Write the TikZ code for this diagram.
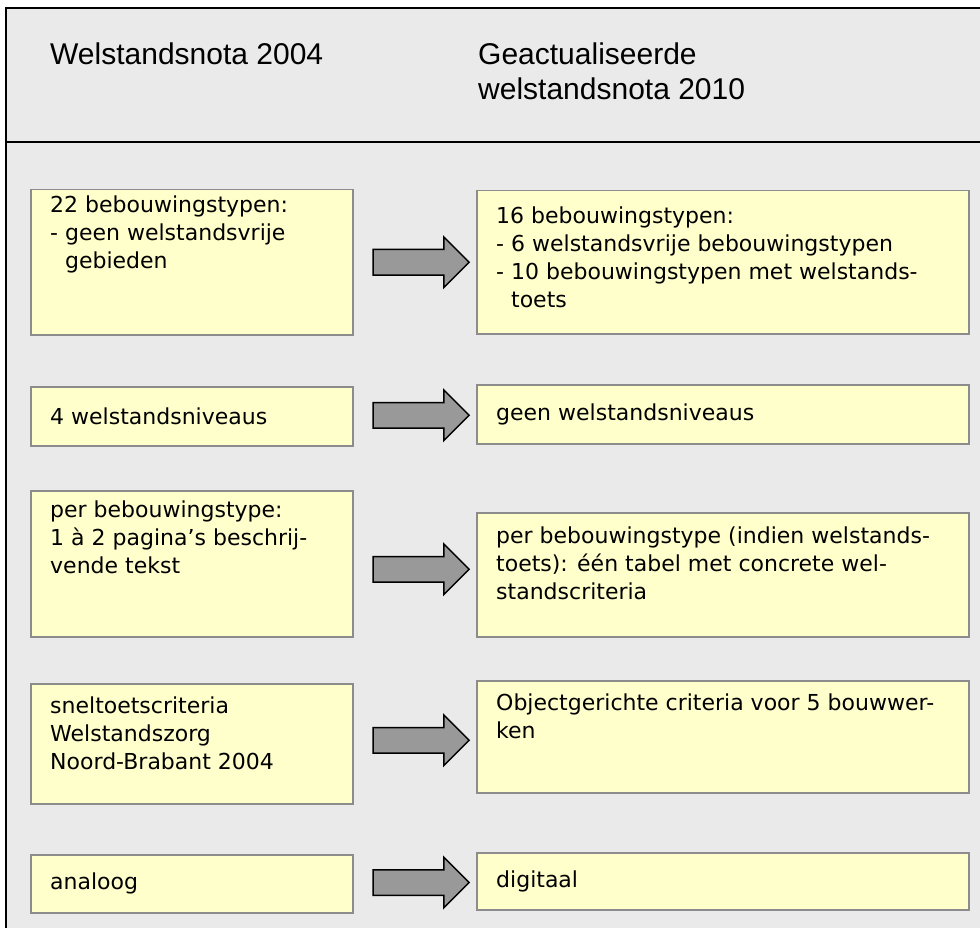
\documentclass[tikz,border=0pt]{standalone}
\usepackage{fontspec}
\usepackage{xcolor}
\setmainfont{DejaVu Sans}
\newfontfamily\headfont{Liberation Sans}
\usetikzlibrary{positioning,calc,shapes.arrows}
\definecolor{framegray}{RGB}{234,234,234}
\definecolor{noteyellow}{RGB}{255,255,204}
\definecolor{boxline}{RGB}{140,140,140}
\definecolor{arrowgray}{RGB}{153,153,153}

\begin{document}
\begin{tikzpicture}[x=1pt, y=-1pt]
    % Define styles
    \tikzstyle{box} = [rectangle, draw=boxline, line width=1.5pt, fill=noteyellow, anchor=north west, inner sep=0pt]
    \tikzstyle{oldbox} = [box, minimum width=322pt]
    \tikzstyle{newbox} = [box, minimum width=492pt]
    \tikzstyle{txt} = [inner sep=0pt, align=left, font=\fontsize{22}{28}\selectfont]
    \tikzstyle{head} = [inner sep=0pt, align=left, anchor=north west, font=\headfont\fontsize{30}{35}\selectfont]
    \tikzstyle{change} = [single arrow, draw=black, line width=1.5pt, fill=arrowgray, minimum height=96pt, inner xsep=0pt, inner ysep=12pt, single arrow head extend=12.5pt]

    % Frame and header
    \useasboundingbox (0,0) rectangle (980,928);
    \begin{scope}
        \clip (0,0) rectangle (980,928);
        \draw[line width=2pt, fill=framegray] (6,8) rectangle (1000,950);
        \draw[line width=1.5pt] (6,142) -- (1000,142);
    \end{scope}
    \node (oldhead) [head] at (50,43) {Welstandsnota 2004};
    \node (newhead) [head] at (478,43) {Geactualiseerde\\welstandsnota 2010};

    % Boxes
    \node (o1) [oldbox, minimum height=145pt] at (30,189) {};
    \node (n1) [newbox, minimum height=143pt] at (476,190) {};
    \node (o2) [oldbox, minimum height=59pt] at (30,386) {};
    \node (n2) [newbox, minimum height=59pt] at (476,384) {};
    \node (o3) [oldbox, minimum height=146pt] at (30,490) {};
    \node (n3) [newbox, minimum height=124pt] at (476,512) {};
    \node (o4) [oldbox, minimum height=120pt] at (30,683) {};
    \node (n4) [newbox, minimum height=112pt] at (476,680) {};
    \node (o5) [oldbox, minimum height=58pt] at (30,854) {};
    \node (n5) [newbox, minimum height=57pt] at (476,852) {};

    % Texts
    \node (o1t) [txt, below right=7pt and 20pt of o1.north west] {22 bebouwingstypen:\\- geen welstandsvrije\\\hphantom{- }gebieden};
    \node (n1t) [txt, below right=17pt and 20pt of n1.north west] {16 bebouwingstypen:\\- 6 welstandsvrije bebouwingstypen\\- 10 bebouwingstypen met welstands-\\\hphantom{- }toets};
    \node (o2t) [txt, right=20pt of o2.west] {4 welstandsniveaus};
    \node (n2t) [txt, right=20pt of n2.west] {geen welstandsniveaus};
    \node (o3t) [txt, below right=11pt and 20pt of o3.north west] {per bebouwingstype:\\1 à 2 pagina’s beschrij-\\vende tekst};
    \node (n3t) [txt, below right=15pt and 20pt of n3.north west] {per bebouwingstype (indien welstands-\\toets): één tabel met concrete wel-\\standscriteria};
    \node (o4t) [txt, below right=14pt and 20pt of o4.north west] {sneltoetscriteria\\Welstandszorg\\Noord-Brabant 2004};
    \node (n4t) [txt, below right=14pt and 20pt of n4.north west] {Objectgerichte criteria voor 5 bouwwer-\\ken};
    \node (o5t) [txt, right=20pt of o5.west] {analoog};
    \node (n5t) [txt, right=20pt of n5.west] {digitaal};

    % Arrows
    \node (a1) [change] at ($(o1.east)!0.5!(n1.west)$) {};
    \node (a2) [change] at ($(o2.east)!0.5!(n2.west)$) {};
    \node (a3) [change] at ($(o3.east)!0.5!(n3.west)$) {};
    \node (a4) [change] at ($(o4.east)!0.5!(n4.west)$) {};
    \node (a5) [change] at ($(o5.east)!0.5!(n5.west)$) {};
\end{tikzpicture}
\end{document}
